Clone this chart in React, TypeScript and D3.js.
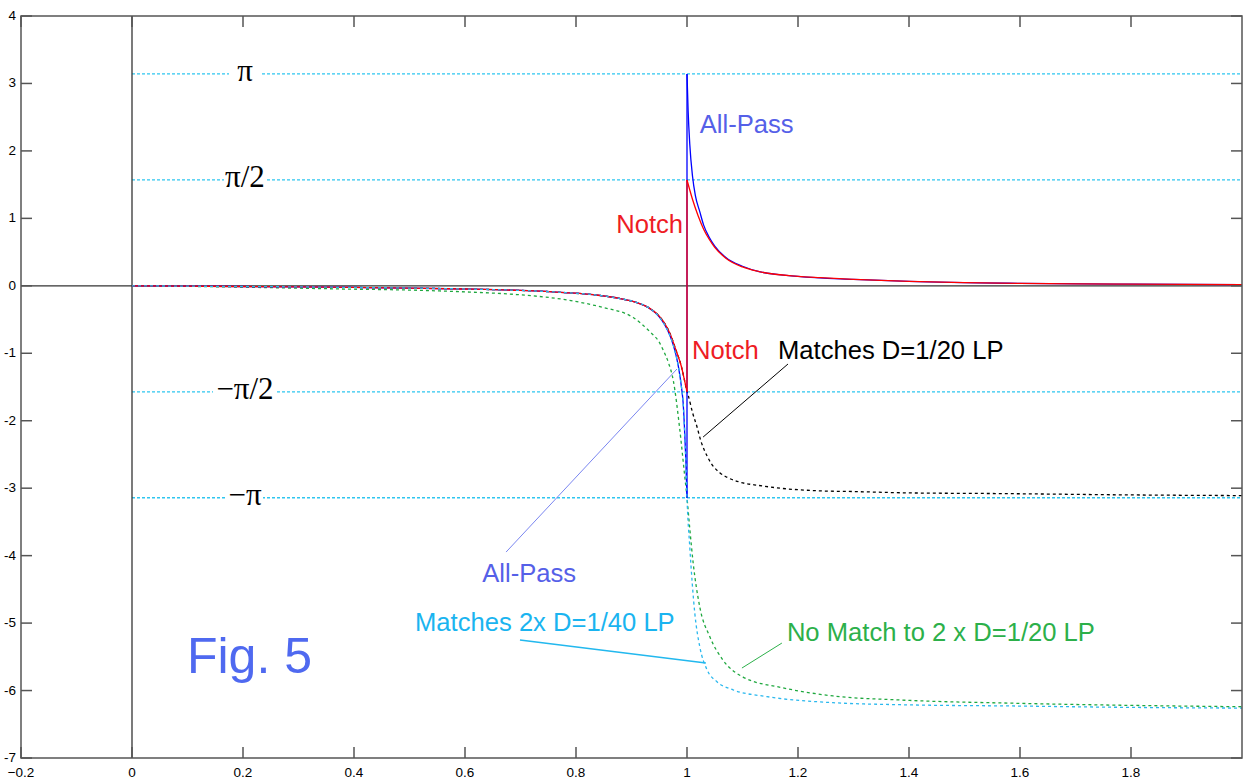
import React from 'react';
import * as d3 from 'd3';

// phase curves (x = normalised frequency, y = radians)
const notchX = [0, 0.1, 0.2, 0.3, 0.4, 0.5, 0.6, 0.7, 0.78, 0.84, 0.88, 0.91, 0.93, 0.95, 0.96, 0.97, 0.98, 0.99, 0.995, 1.0,
  1.0, 1.005, 1.01, 1.02, 1.03, 1.04, 1.05, 1.07, 1.1, 1.13, 1.2, 1.24, 1.3, 1.4, 1.5, 1.6, 1.7, 1.8, 1.9, 2.0];
const notchY = [0, -0.005, -0.01, -0.016, -0.024, -0.033, -0.047, -0.068, -0.1, -0.14, -0.19, -0.25, -0.32, -0.45, -0.56, -0.72, -0.95, -1.2, -1.38, -1.57,
  1.57, 1.42, 1.28, 1.04, 0.84, 0.69, 0.57, 0.41, 0.28, 0.21, 0.14, 0.12, 0.095, 0.065, 0.047, 0.036, 0.029, 0.024, 0.02, 0.018];

const allPassX = [0, 0.1, 0.2, 0.3, 0.4, 0.5, 0.6, 0.7, 0.78, 0.84, 0.88, 0.91, 0.93, 0.95, 0.96, 0.97, 0.975, 0.98, 0.985, 0.99, 0.993, 0.996, 0.998, 1.0,
  1.0, 1.002, 1.005, 1.01, 1.015, 1.023, 1.03, 1.04, 1.05, 1.07, 1.1, 1.13, 1.2, 1.3, 1.4, 1.6, 1.8, 2.0];
const allPassY = [0, -0.005, -0.01, -0.016, -0.024, -0.033, -0.047, -0.068, -0.1, -0.14, -0.19, -0.25, -0.32, -0.46, -0.58, -0.75, -0.87, -1.02, -1.22, -1.5, -1.73, -2.2, -2.6, -3.14,
  3.14, 2.6, 2.1, 1.62, 1.34, 1.1, 0.9, 0.72, 0.59, 0.42, 0.29, 0.21, 0.14, 0.095, 0.065, 0.036, 0.024, 0.018];

const lp20X = [0, 0.1, 0.2, 0.3, 0.4, 0.5, 0.6, 0.7, 0.78, 0.84, 0.88, 0.91, 0.93, 0.95, 0.96, 0.97, 0.98, 0.99, 0.995, 1.0,
  1.002, 1.01, 1.018, 1.025, 1.036, 1.045, 1.059, 1.075, 1.095, 1.13, 1.162, 1.24, 1.3, 1.4, 1.564, 1.8, 2.0];
const lp20Y = [0, -0.005, -0.01, -0.016, -0.024, -0.033, -0.047, -0.068, -0.1, -0.14, -0.19, -0.25, -0.32, -0.45, -0.56, -0.72, -0.95, -1.2, -1.38, -1.57,
  -1.62, -1.88, -2.09, -2.3, -2.52, -2.65, -2.77, -2.85, -2.91, -2.96, -2.995, -3.04, -3.05, -3.07, -3.08, -3.1, -3.11];

const lp40x2X = [0, 0.1, 0.2, 0.3, 0.4, 0.5, 0.6, 0.7, 0.78, 0.84, 0.88, 0.91, 0.93, 0.95, 0.96, 0.97, 0.975, 0.98, 0.985, 0.99, 0.993, 0.996, 0.998, 1.0,
  1.005, 1.014, 1.023, 1.036, 1.054, 1.083, 1.144, 1.263, 1.384, 1.6, 1.8, 2.0];
const lp40x2Y = [0, -0.005, -0.01, -0.016, -0.024, -0.033, -0.047, -0.068, -0.1, -0.14, -0.19, -0.25, -0.32, -0.46, -0.58, -0.75, -0.87, -1.02, -1.22, -1.5, -1.73, -2.2, -2.6, -3.14,
  -3.87, -4.85, -5.35, -5.69, -5.87, -5.99, -6.09, -6.18, -6.21, -6.23, -6.25, -6.26];

const lp20x2X = [0, 0.1, 0.2, 0.3, 0.4, 0.483, 0.6, 0.694, 0.784, 0.843, 0.903, 0.933, 0.951, 0.957, 0.967, 0.975, 0.987, 0.996, 1.0,
  1.005, 1.011, 1.023, 1.041, 1.065, 1.101, 1.173, 1.263, 1.384, 1.6, 1.8, 2.0];
const lp20x2Y = [0, -0.008, -0.02, -0.035, -0.05, -0.06, -0.09, -0.13, -0.21, -0.31, -0.47, -0.68, -0.85, -0.95, -1.15, -1.39, -2.13, -2.83, -3.14,
  -3.6, -4.1, -4.76, -5.2, -5.55, -5.8, -5.96, -6.08, -6.14, -6.19, -6.22, -6.24];

const xTicks = [-0.2, 0, 0.2, 0.4, 0.6, 0.8, 1, 1.2, 1.4, 1.6, 1.8];
const yTicks = [-7, -6, -5, -4, -3, -2, -1, 0, 1, 2, 3, 4];
const piLevels = [Math.PI, Math.PI / 2, -Math.PI / 2, -Math.PI];
const piLabels = ['π', 'π/2', '−π/2', '−π'];
const piGaps = [32, 42, 64, 36];

const zip = (xs: number[], ys: number[]) => xs.map((x, i) => [x, ys[i]] as [number, number]);

// split a series at its phase-wrap jumps (repeated x) so each branch can be smoothed
const branches = (pts: [number, number][]) => {
  const out: [number, number][][] = [[pts[0]]];
  for (let i = 1; i < pts.length; i++) {
    if (pts[i][0] === pts[i - 1][0]) out.push([pts[i]]);
    else out[out.length - 1].push(pts[i]);
  }
  return out;
};

export default function App() {
  const W = 1246, H = 781;
  const x = d3.scaleLinear().domain([-0.2, 2.0]).range([21, 1242]);
  const y = d3.scaleLinear().domain([-7, 4]).range([758, 16]);
  const line = d3.line<[number, number]>().x(d => x(d[0])).y(d => y(d[1])).curve(d3.curveMonotoneX);

  const curves = [
    { pts: zip(lp20x2X, lp20x2Y), color: '#1fa83f', dash: '3,3' },
    { pts: zip(lp20X, lp20Y), color: '#000', dash: '3,3' },
    { pts: zip(allPassX, allPassY), color: '#0000ff', dash: null },
    { pts: zip(notchX, notchY), color: '#ff0000', dash: null },
    { pts: zip(lp40x2X, lp40x2Y), color: '#2ab8ee', dash: '3,3' },
  ];

  const leaders = [
    { a: [0.674, -3.947], b: [0.982, -1.233], color: '#7a86f0', w: 1 },
    { a: [1.182, -1.159], b: [1.029, -2.242], color: '#000', w: 1 },
    { a: [0.699, -5.251], b: [1.034, -5.592], color: '#22b8ee', w: 1.5 },
    { a: [1.171, -5.296], b: [1.099, -5.666], color: '#2cb04a', w: 1 },
  ];

  const labels = [
    { t: 'All-Pass', x: 1.023, y: 2.265, color: '#5560e8', anchor: 'start' },
    { t: 'Notch', x: 0.993, y: 0.783, color: '#ee1c24', anchor: 'end' },
    { t: 'Notch', x: 1.009, y: -1.08, color: '#ee1c24', anchor: 'start' },
    { t: 'Matches D=1/20 LP', x: 1.164, y: -1.08, color: '#000', anchor: 'start' },
    { t: 'All-Pass', x: 0.631, y: -4.39, color: '#5560e8', anchor: 'start' },
    { t: 'Matches 2x D=1/40 LP', x: 0.51, y: -5.12, color: '#1ab4f0', anchor: 'start' },
    { t: 'No Match to 2 x D=1/20 LP', x: 1.18, y: -5.27, color: '#2cb04a', anchor: 'start' },
  ];

  const [x0, x1] = x.range();
  const [yb, yt] = y.range();
  const tick = 11;
  const axisColor = '#555';

  return (
    <svg width={W} height={H} style={{ position: 'absolute', left: 0, top: 0, background: '#fff' }}
      fontFamily="Arial, 'Liberation Sans', sans-serif">
      {/* pi reference lines */}
      {piLevels.map((v, i) => (
        <g key={'pi' + i}>
          <line x1={x(0)} x2={x1} y1={y(v)} y2={y(v)} stroke="#2ec6f0" strokeWidth={1.3} strokeDasharray="3,2" />
          <rect x={x(0.2) + 2 - piGaps[i] / 2} y={y(v) - 3} width={piGaps[i]} height={6} fill="#fff" />
          <text x={x(0.2) + 2} y={y(v) + 7} textAnchor="middle" fontFamily="'Liberation Serif', 'Times New Roman', serif"
            fontSize={31} fill="#000">{piLabels[i]}</text>
        </g>
      ))}

      {/* zero axes */}
      <line x1={x0} x2={x1} y1={y(0)} y2={y(0)} stroke="#333" strokeWidth={1.3} />
      <line x1={x(0)} x2={x(0)} y1={yb} y2={yt} stroke="#333" strokeWidth={1.3} />

      {/* curves: smooth branches plus the vertical wrap segments */}
      {curves.map((c, i) => {
        const bs = branches(c.pts);
        return (
          <g key={'c' + i} fill="none" stroke={c.color} strokeWidth={1.3} strokeDasharray={c.dash || undefined}>
            {bs.map((b, j) => <path key={j} d={line(b) || ''} />)}
            {bs.slice(1).map((b, j) => {
              const prev = bs[j][bs[j].length - 1];
              return <line key={'j' + j} x1={x(prev[0])} x2={x(b[0][0])} y1={y(prev[1])} y2={y(b[0][1])} />;
            })}
          </g>
        );
      })}

      {/* leader lines */}
      {leaders.map((l, i) => (
        <line key={'l' + i} x1={x(l.a[0])} y1={y(l.a[1])} x2={x(l.b[0])} y2={y(l.b[1])} stroke={l.color} strokeWidth={l.w} />
      ))}

      {/* labels */}
      {labels.map((l, i) => (
        <text key={'t' + i} x={x(l.x)} y={y(l.y)} fontSize={25.6} fill={l.color} textAnchor={l.anchor as any}>{l.t}</text>
      ))}
      <text x={x(0.099)} y={y(-5.74)} fontSize={50} fill="#4f69f0">Fig. 5</text>

      {/* frame */}
      <rect x={x0} y={yt} width={x1 - x0} height={yb - yt} fill="none" stroke={axisColor} strokeWidth={1.5} />
      {xTicks.map(t => (
        <g key={'xt' + t}>
          <line x1={x(t)} x2={x(t)} y1={yb} y2={yb - tick} stroke={axisColor} strokeWidth={1.5} />
          <line x1={x(t)} x2={x(t)} y1={yt} y2={yt + tick} stroke={axisColor} strokeWidth={1.5} />
          <text x={x(t)} y={yb + 19} textAnchor="middle" fontSize={13.5} fill="#000">{d3.format('')(t)}</text>
        </g>
      ))}
      {yTicks.map(t => (
        <g key={'yt' + t}>
          <line x1={x0} x2={x0 + tick} y1={y(t)} y2={y(t)} stroke={axisColor} strokeWidth={1.5} />
          <line x1={x1} x2={x1 - tick} y1={y(t)} y2={y(t)} stroke={axisColor} strokeWidth={1.5} />
          <text x={16} y={y(t) + 4} textAnchor="end" fontSize={13.5} fill="#000">{String(t)}</text>
        </g>
      ))}
    </svg>
  );
}
